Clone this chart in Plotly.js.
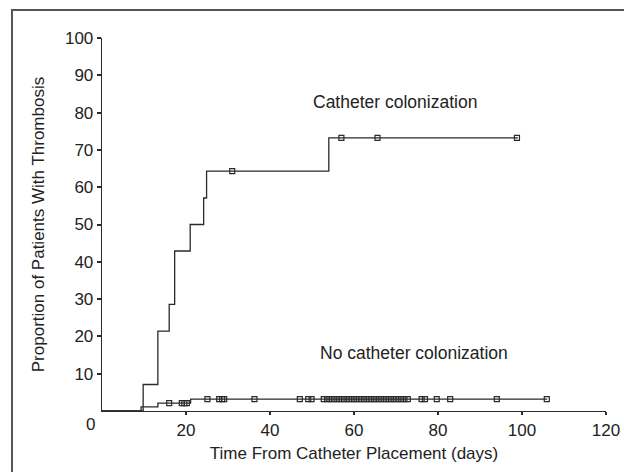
<!DOCTYPE html>
<html>
<head>
<meta charset="utf-8">
<script src="https://cdn.plot.ly/plotly-3.0.1.min.js"></script>
<style>html,body{margin:0;padding:0;background:#fff;}#chart{width:624px;height:472px;}</style>
</head>
<body>
<div id="chart"></div>
<script>
// Catheter colonization: step curve (time in days, cumulative %)
const colonX = [0, 9.8, 13.3, 16.0, 17.3, 21.0, 24.2, 24.9, 54.0, 99.0];
const colonY = [0, 7.1, 21.4, 28.6, 42.9, 50.0, 57.1, 64.3, 73.2, 73.2];
const colonCensorX = [31.0, 57.0, 65.6, 98.8];
const colonCensorY = [64.3, 73.2, 73.2, 73.2];

// No catheter colonization
const noColonX = [0, 9.3, 13.3, 21.1, 106.0];
const noColonY = [0, 1.1, 2.1, 3.2, 3.2];
const noColonCensorX = [16.0, 19.0, 19.6, 20.2, 25.1, 27.9, 28.6, 29.1, 36.3, 47.1, 49.1, 49.9,
  52.8, 53.6, 54.4, 55.2, 56.0, 56.8, 57.6, 58.4, 59.2, 60.0, 60.8, 61.6, 62.4, 63.2, 64.0, 64.8,
  65.6, 66.4, 67.2, 68.0, 68.8, 69.6, 70.4, 71.2, 72.0, 72.8, 76.1, 76.9, 79.7, 82.9, 94.0, 105.9];
const noColonCensorY = [2.1, 2.1, 2.1, 2.1, 3.2, 3.2, 3.2, 3.2, 3.2, 3.2, 3.2, 3.2,
  3.2, 3.2, 3.2, 3.2, 3.2, 3.2, 3.2, 3.2, 3.2, 3.2, 3.2, 3.2, 3.2, 3.2, 3.2, 3.2,
  3.2, 3.2, 3.2, 3.2, 3.2, 3.2, 3.2, 3.2, 3.2, 3.2, 3.2, 3.2, 3.2, 3.2, 3.2, 3.2];

const xTicks = [20, 40, 60, 80, 100, 120];
const yTicks = [10, 20, 30, 40, 50, 60, 70, 80, 90, 100];
const curveLabels = ["Catheter colonization", "No catheter colonization"];

const lineCol = '#2a2a2a';
const mk = {symbol: 'square-open', size: 5, color: lineCol, line: {width: 1.2, color: lineCol}};

const traces = [
  {x: colonX, y: colonY, mode: 'lines', line: {shape: 'hv', color: lineCol, width: 1.3}},
  {x: colonCensorX, y: colonCensorY, mode: 'markers', marker: mk, cliponaxis: false},
  {x: noColonX, y: noColonY, mode: 'lines', line: {shape: 'hv', color: lineCol, width: 1.3}},
  {x: noColonCensorX, y: noColonCensorY, mode: 'markers', marker: mk, cliponaxis: false}
];

const font = {family: 'Arial, "Liberation Sans", sans-serif', color: '#222', size: 17};
const annFont = {family: 'Arial, "Liberation Sans", sans-serif', color: '#222', size: 17.5};

const layout = {
  width: 624, height: 472,
  margin: {l: 102, r: 18, t: 38, b: 61},
  paper_bgcolor: '#fff', plot_bgcolor: '#fff',
  showlegend: false,
  font: font,
  xaxis: {
    range: [0, 120], tickvals: xTicks, ticktext: xTicks.map(String),
    showgrid: false, zeroline: false, showline: true, linecolor: '#2a2a2a', linewidth: 1.3,
    ticks: 'outside', ticklen: 3, tickwidth: 2, tickcolor: '#2a2a2a',
    tickfont: font,
    title: {text: 'Time From Catheter Placement (days)', font: font, standoff: 8}
  },
  yaxis: {
    range: [0, 100], tickvals: yTicks, ticktext: yTicks.map(String),
    showgrid: false, zeroline: false, showline: true, linecolor: '#2a2a2a', linewidth: 1.3,
    ticks: 'outside', ticklen: 4, tickwidth: 2, tickcolor: '#2a2a2a',
    tickfont: font,
    title: {text: 'Proportion of Patients With Thrombosis', font: font, standoff: 16}
  },
  annotations: [
    {x: 69.8, y: 82.8, xref: 'x', yref: 'y', text: curveLabels[0], showarrow: false, font: annFont},
    {x: 74.3, y: 15.5, xref: 'x', yref: 'y', text: curveLabels[1], showarrow: false, font: annFont},
    {x: -0.01, y: 0, xref: 'paper', yref: 'paper', xanchor: 'right', yanchor: 'top', yshift: -2,
     text: '0', showarrow: false, font: font}
  ],
  shapes: [
    {type: 'rect', xref: 'paper', yref: 'paper', x0: -0.1786, x1: 1.06, y0: -0.2, y1: 1.075,
     line: {color: '#555', width: 2}, fillcolor: 'rgba(0,0,0,0)', layer: 'below'}
  ]
};

Plotly.newPlot('chart', traces, layout, {displayModeBar: false, staticPlot: true});
</script>
</body>
</html>
